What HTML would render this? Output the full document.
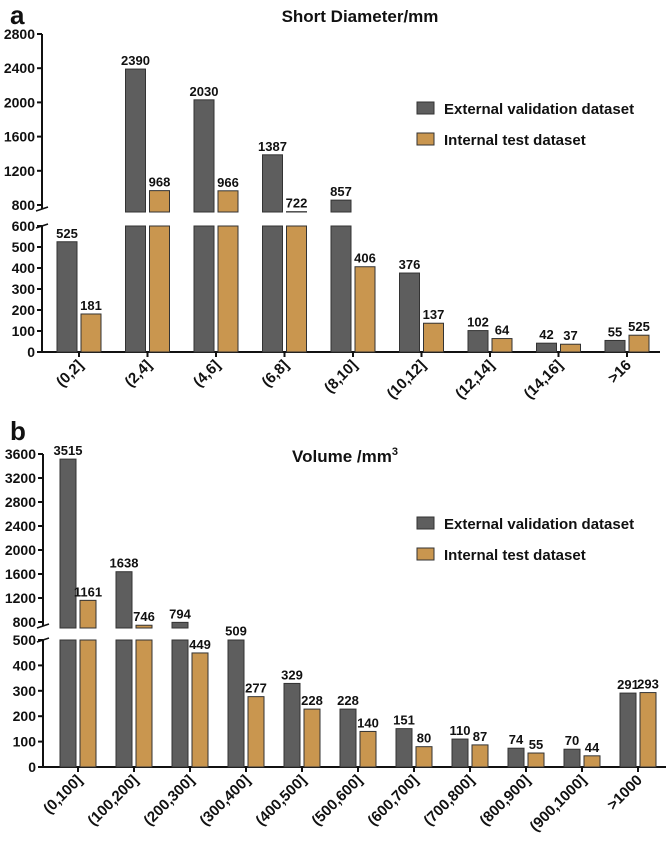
<!DOCTYPE html>
<html><head><meta charset="utf-8"><style>
body{margin:0;background:#fff;width:669px;height:840px;overflow:hidden}
svg text{font-family:"Liberation Sans",Arial,sans-serif;font-weight:bold;fill:#111}
</style></head><body>
<svg id="chart" width="669" height="840" xmlns="http://www.w3.org/2000/svg">
<text x="10" y="24" font-size="26">a</text>
<text x="360" y="22" font-size="17" text-anchor="middle">Short Diameter/mm</text>
<text x="10" y="440" font-size="26">b</text>
<text x="345" y="462" font-size="17" text-anchor="middle">Volume /mm<tspan font-size="11" dy="-7">3</tspan></text>
<g id="ga"></g><g id="gb"></g>
<g>
<rect x="417" y="102" width="17" height="12" fill="#5e5e5e" stroke="#333"/><text x="444" y="114" font-size="15">External validation dataset</text>
<rect x="417" y="133" width="17" height="12" fill="#c9964f" stroke="#333"/><text x="444" y="145" font-size="15">Internal test dataset</text>
</g>
<g>
<rect x="417" y="517" width="17" height="12" fill="#5e5e5e" stroke="#333"/><text x="444" y="529" font-size="15">External validation dataset</text>
<rect x="417" y="548" width="17" height="12" fill="#c9964f" stroke="#333"/><text x="444" y="560" font-size="15">Internal test dataset</text>
</g>
</svg>
<script>
const catsA=["(0,2]","(2,4]","(4,6]","(6,8]","(8,10]","(10,12]","(12,14]","(14,16]",">16"];
const extA=[525,2390,2030,1387,857,376,102,42,55];
const intA=[181,968,966,722,406,137,64,37,80];
const extLabA=["525","2390","2030","1387","857","376","102","42","55"];
const intLabA=["181","968","966","722","406","137","64","37","525"];
const ticksLowA=[0,100,200,300,400,500,600];
const ticksHighA=[800,1200,1600,2000,2400,2800];
const catsB=["(0,100]","(100,200]","(200,300]","(300,400]","(400,500]","(500,600]","(600,700]","(700,800]","(800,900]","(900,1000]",">1000"];
const extB=[3515,1638,794,509,329,228,151,110,74,70,291];
const intB=[1161,746,449,277,228,140,80,87,55,44,293];
const ticksLowB=[0,100,200,300,400,500];
const ticksHighB=[800,1200,1600,2000,2400,2800,3200,3600];
const NS="http://www.w3.org/2000/svg";
function mk(p,t,a,txt){const e=document.createElementNS(NS,t);for(const k in a)e.setAttribute(k,a[k]);if(txt!==undefined)e.textContent=txt;p.appendChild(e);return e;}
function draw(g,o,cats,ext,intr,extL,intL,tl,th){
 const lowMax=tl[tl.length-1],hiMin=th[0],hiMax=th[th.length-1];
 const yL=v=>o.y0-(v/lowMax)*(o.y0-o.yLt);
 const yH=v=>o.yHb-((v-hiMin)/(hiMax-hiMin))*(o.yHb-o.yHt);
 const xc=i=>o.c0+i*o.cw;
 let a=mk(g,'line',{x1:o.ax,y1:o.yLt,x2:o.ax,y2:o.y0,stroke:'#111','stroke-width':2});
 
 a=mk(g,'line',{x1:o.ax,y1:o.yHt,x2:o.ax,y2:o.yHb+4,stroke:'#111','stroke-width':2});
 
 a=mk(g,'line',{x1:o.ax,y1:o.y0,x2:o.xEnd,y2:o.y0,stroke:'#111','stroke-width':2});
 
 mk(g,'line',{x1:o.ax-6,y1:o.yHb+6,x2:o.ax+6,y2:o.yHb+2,stroke:'#111','stroke-width':1.5});
 mk(g,'line',{x1:o.ax-6,y1:o.yLt+2,x2:o.ax+6,y2:o.yLt-2,stroke:'#111','stroke-width':1.5});
 tl.forEach(v=>{const y=yL(v);mk(g,'line',{x1:o.ax-5,y1:y,x2:o.ax,y2:y,stroke:'#111','stroke-width':2});
  const t=mk(g,'text',{x:o.ax-7,y:y+5,'font-size':14,'text-anchor':'end'},String(v));
  });
 th.forEach(v=>{const y=yH(v);mk(g,'line',{x1:o.ax-5,y1:y,x2:o.ax,y2:y,stroke:'#111','stroke-width':2});
  const t=mk(g,'text',{x:o.ax-7,y:y+5,'font-size':14,'text-anchor':'end'},String(v));
  });
 function bar(x,v,col,lab,nm){
  let topY;
  if(v<=lowMax){topY=yL(v);const r=mk(g,'rect',{x:x,y:topY,width:o.bw,height:o.y0-topY,fill:col,stroke:'#333','stroke-width':1});
   }
  else{const r=mk(g,'rect',{x:x,y:o.yLt,width:o.bw,height:o.y0-o.yLt,fill:col,stroke:'#333','stroke-width':1});
   
   topY=yH(v);const r2=mk(g,'rect',{x:x,y:topY,width:o.bw,height:o.yBreakTop-topY,fill:col,stroke:'#333','stroke-width':1});
   }
  const t=mk(g,'text',{x:x+o.bw/2,y:topY-4,'font-size':o.fs,'text-anchor':'middle'},lab);
  
 }
 cats.forEach((c,i)=>{const cx=xc(i);
  bar(cx-o.bw-o.gap/2,ext[i],'#5e5e5e',extL[i],'bar-external');
  bar(cx+o.gap/2,intr[i],'#c9964f',intL[i],'bar-internal');
  mk(g,'line',{x1:cx,y1:o.y0,x2:cx,y2:o.y0+5,stroke:'#111','stroke-width':2});
  const t=mk(g,'text',{x:cx+5,y:o.y0+14,'font-size':15,'text-anchor':'end',transform:`rotate(-45 ${cx+5} ${o.y0+14})`},c);
  
 });
}
draw(document.getElementById('ga'),{ax:42,y0:352,yLt:226,yHt:34,yHb:205,yBreakTop:212,c0:79,cw:68.5,bw:20,gap:4,xEnd:660,fs:13},catsA,extA,intA,extLabA,intLabA,ticksLowA,ticksHighA);
draw(document.getElementById('gb'),{ax:43,y0:767,yLt:640,yHt:454,yHb:622,yBreakTop:628,c0:78,cw:56,bw:16,gap:4,xEnd:666,fs:13},catsB,extB,intB,extB.map(String),intB.map(String),ticksLowB,ticksHighB);
</script>
</body></html>
